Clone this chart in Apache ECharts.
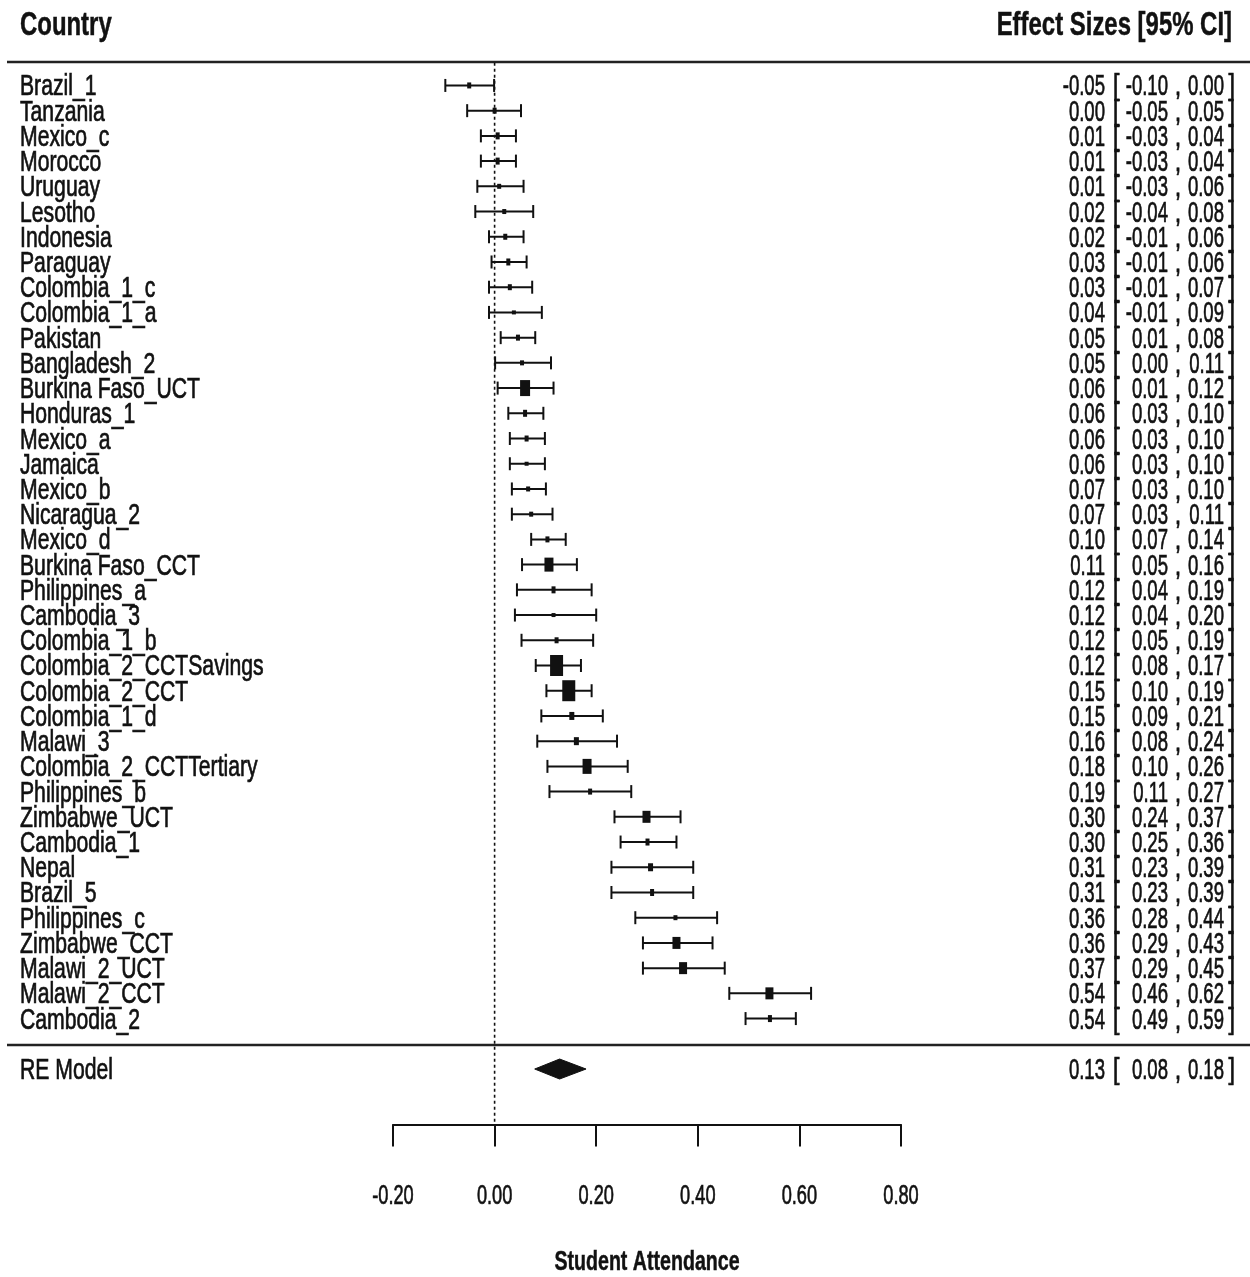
<!DOCTYPE html>
<html><head><meta charset="utf-8">
<script src="https://cdn.jsdelivr.net/npm/echarts@6/dist/echarts.min.js"></script>
<style>html,body{margin:0;padding:0;background:#fff}#c{width:1250px;height:1277px}</style>
</head><body><div id="c"></div>
<script>
// ---------------- data ----------------
const studies = ["Brazil_1","Tanzania","Mexico_c","Morocco","Uruguay","Lesotho","Indonesia","Paraguay",
  "Colombia_1_c","Colombia_1_a","Pakistan","Bangladesh_2","Burkina Faso_UCT","Honduras_1","Mexico_a",
  "Jamaica","Mexico_b","Nicaragua_2","Mexico_d","Burkina Faso_CCT","Philippines_a","Cambodia_3",
  "Colombia_1_b","Colombia_2_CCTSavings","Colombia_2_CCT","Colombia_1_d","Malawi_3",
  "Colombia_2_CCTTertiary","Philippines_b","Zimbabwe_UCT","Cambodia_1","Nepal","Brazil_5",
  "Philippines_c","Zimbabwe_CCT","Malawi_2_UCT","Malawi_2_CCT","Cambodia_2"];
const estimates = [-0.050,0.000,0.006,0.006,0.009,0.019,0.021,0.027,0.030,0.038,0.046,0.054,0.060,0.060,0.063,
  0.063,0.066,0.072,0.104,0.107,0.116,0.116,0.122,0.122,0.146,0.152,0.161,0.182,0.188,0.299,0.301,0.307,0.310,
  0.356,0.358,0.371,0.541,0.542];
const lowerCI = [-0.097,-0.054,-0.027,-0.027,-0.034,-0.038,-0.011,-0.006,-0.011,-0.011,0.012,0.001,0.006,0.027,0.030,
  0.030,0.034,0.034,0.072,0.054,0.044,0.040,0.053,0.081,0.102,0.092,0.084,0.104,0.108,0.236,0.248,0.230,0.230,
  0.277,0.292,0.292,0.462,0.494];
const upperCI = [-0.001,0.052,0.042,0.042,0.057,0.076,0.057,0.063,0.074,0.093,0.080,0.111,0.116,0.096,0.099,
  0.099,0.101,0.114,0.140,0.162,0.191,0.200,0.194,0.170,0.191,0.213,0.241,0.262,0.269,0.366,0.358,0.391,0.391,
  0.438,0.429,0.453,0.623,0.593];
// relative study weights
const weights = [6,6,7,7,5,5,6,7,6,4,6,5,16,7,6,4,5,5,6,14,7,4,6,21,21,8,8,15,6,12,7,8,7,5,12,12,12,7];
const reLabel = "RE Model";
const reEstimate = 0.128, reLower = 0.079, reUpper = 0.180;
const xTicks = [-0.2,0,0.2,0.4,0.6,0.8];
const xTickLabels = ["-0.20","0.00","0.20","0.40","0.60","0.80"];
const headerLeft = "Country", headerRight = "Effect Sizes [95% CI]", xTitle = "Student Attendance";

// ---------------- layout / style ----------------
const INK = '#111';
const FONT = '"Liberation Sans", Arial, sans-serif';
const K = studies.length;
const RE_ROW = -1, TOP_ROW = K + 0.9, AXIS_ROW = -3.2;
const fmt = v => (Math.abs(v) < 0.005 ? 0 : v).toFixed(2);

function txt(x, y, s, align, fs, sx, fw, sw) {
  return {type:'text', x:x, y:y, scaleX:sx, scaleY:1,
    style:{text:s, x:0, y:0, align:align, verticalAlign:'middle', textAlign:align, textVerticalAlign:'middle',
      fontFamily:FONT, fontSize:fs, fontWeight:fw||'normal', fill:INK,
      stroke:INK, lineWidth:(sw==null?0.7:sw)}};
}
function rightCol(y, e, l, u) {
  const fs = 29, sx = 0.64;
  return [
    txt(1105, y, fmt(e), 'right', fs, sx),
    txt(1113, y, '[', 'left', fs, 0.8),
    txt(1168, y, fmt(l), 'right', fs, sx),
    txt(1178, y, ',', 'center', fs, 0.8),
    txt(1224, y, fmt(u), 'right', fs, sx),
    txt(1235, y, ']', 'right', fs, 0.8)
  ];
}
const TDY = 2;

const studyData = studies.map((s, i) => [K - i, estimates[i], lowerCI[i], upperCI[i], weights[i], i]);

function renderStudy(params, api) {
  const row = api.value(0), e = api.value(1), l = api.value(2), u = api.value(3), w = api.value(4), i = api.value(5);
  const pE = api.coord([e, row]), pL = api.coord([l, row]), pU = api.coord([u, row]);
  const y = pE[1];
  const bh = w, bw = Math.max(4, Math.round(w * 0.63));
  const ls = {stroke:INK, lineWidth:2};
  const ch = [
    {type:'line', shape:{x1:pL[0], y1:y, x2:pU[0], y2:y}, style:ls},
    {type:'line', shape:{x1:pL[0], y1:y-6.5, x2:pL[0], y2:y+6.5}, style:ls},
    {type:'line', shape:{x1:pU[0], y1:y-6.5, x2:pU[0], y2:y+6.5}, style:ls},
    {type:'rect', shape:{x:pE[0]-bw/2, y:y-bh/2, width:bw, height:bh}, style:{fill:INK}},
    txt(20, y+TDY, studies[i], 'left', 29, 0.73)
  ].concat(rightCol(y+TDY, e, l, u));
  return {type:'group', children:ch};
}

function renderRE(params, api) {
  const pE = api.coord([api.value(0), RE_ROW]), pL = api.coord([api.value(1), RE_ROW]), pU = api.coord([api.value(2), RE_ROW]);
  const y = pE[1], h = 10;
  return {type:'group', children:[
    {type:'polygon', shape:{points:[[pL[0],y],[pE[0],y-h],[pU[0],y],[pE[0],y+h]]}, style:{fill:INK, stroke:INK, lineWidth:1}},
    txt(20, y+TDY, reLabel, 'left', 29, 0.73)
  ].concat(rightCol(y+TDY, api.value(0), api.value(1), api.value(2)))};
}

function renderRef(params, api) {
  const a = api.coord([api.value(0), TOP_ROW]), b = api.coord([api.value(0), AXIS_ROW]);
  return {type:'line', shape:{x1:a[0], y1:a[1], x2:b[0], y2:b[1]}, style:{stroke:INK, lineWidth:1.6, lineDash:[3,3]}};
}

function renderTick(params, api) {
  const p = api.coord([api.value(0), AXIS_ROW]);
  return txt(p[0], 1196, xTickLabels[api.value(1)], 'center', 28, 0.65);
}

function gText(x, y, s, align, fs, sx) {
  return {type:'text', x:x, y:y, scaleX:sx, style:{text:s, x:0, y:0, textAlign:align, textVerticalAlign:'middle',
    fontFamily:FONT, fontSize:fs, fontWeight:'bold', fill:INK, stroke:INK, lineWidth:0.5}};
}

const chart = echarts.init(document.getElementById('c'), null, {renderer:'canvas'});
chart.setOption({
  animation:false,
  backgroundColor:'#fff',
  grid:{left:393, right:349, top:35, bottom:152.5, containLabel:false},
  xAxis:{type:'value', min:-0.2, max:0.8, interval:0.2,
    axisLine:{show:true, onZero:false, lineStyle:{color:INK, width:2}},
    axisTick:{show:true, length:22, lineStyle:{color:INK, width:2}},
    axisLabel:{show:false}, splitLine:{show:false}},
  yAxis:{type:'value', min:AXIS_ROW, max:40, show:false},
  graphic:[
    {type:'line', shape:{x1:7, y1:62, x2:1250, y2:62}, style:{stroke:'#222', lineWidth:2.5}},
    {type:'line', shape:{x1:7, y1:1045, x2:1250, y2:1045}, style:{stroke:'#222', lineWidth:2.5}},
    gText(20, 26, headerLeft, 'left', 33, 0.725),
    gText(1232, 26, headerRight, 'right', 33, 0.725),
    gText(647, 1262, xTitle, 'center', 28, 0.70)
  ],
  series:[
    {type:'custom', clip:false, renderItem:renderRef, data:[[0]], encode:{x:0}, z:1},
    {type:'custom', clip:false, renderItem:renderStudy, data:studyData, encode:{x:[1,2,3], y:0}, z:3},
    {type:'custom', clip:false, renderItem:renderRE, data:[[reEstimate, reLower, reUpper]], encode:{x:[0,1,2]}, z:3},
    {type:'custom', clip:false, renderItem:renderTick, data:xTicks.map((v,i)=>[v,i]), encode:{x:0}, z:3}
  ]
});
</script></body></html>
